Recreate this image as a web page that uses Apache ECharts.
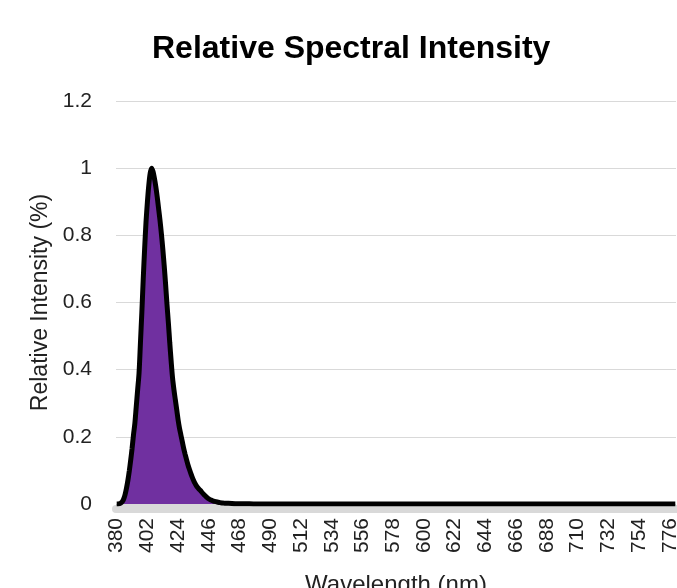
<!DOCTYPE html>
<html>
<head>
<meta charset="utf-8">
<script src="https://cdn.jsdelivr.net/npm/echarts@6/dist/echarts.min.js"></script>
<style>
html,body{margin:0;padding:0;background:#fff;}
#chart{width:677px;height:588px;}
</style>
</head>
<body>
<div id="chart"></div>
<script>
// Wavelengths (nm) and relative intensity values
var wavelengths = [380,381,382,383,384,385,386,387,388,389,
  390,391,392,393,394,395,396,397,398,399,
  400,401,402,403,404,405,406,407,408,409,
  410,411,412,413,414,415,416,417,418,419,
  420,421,422,423,424,425,426,427,428,429,
  430,431,432,433,434,435,436,437,438,439,
  440,441,442,443,444,445,446,447,448,449,
  450,452,454,456,458,460,465,470,480,490,
  500,550,600,650,700,750,780];
var intensity = [0,0,0.001,0.003,0.007,0.015,0.028,0.047,0.07,0.098,
  0.13,0.165,0.205,0.24,0.29,0.34,0.39,0.48,0.57,0.67,
  0.76,0.84,0.9,0.95,0.985,1.0,0.99,0.97,0.945,0.915,
  0.88,0.845,0.805,0.76,0.71,0.655,0.595,0.54,0.48,0.425,
  0.375,0.34,0.31,0.28,0.25,0.225,0.205,0.185,0.165,0.148,
  0.132,0.117,0.104,0.092,0.081,0.071,0.062,0.055,0.049,0.044,
  0.04,0.035,0.03,0.026,0.022,0.018,0.015,0.013,0.011,0.009,
  0.008,0.006,0.004,0.003,0.002,0.002,0.001,0.001,0,0,
  0,0,0,0,0,0,0];
var xTickLabels = [380,402,424,446,468,490,512,534,556,578,600,622,644,666,688,710,732,754,776];
var yTicks = [0,0.2,0.4,0.6,0.8,1,1.2];

var chartTitle = 'Relative Spectral Intensity';
var xName = 'Wavelength (nm)';
var yName = 'Relative Intensity (%)';

var seriesData = wavelengths.map(function(w,i){ return [w, intensity[i]]; });

var chart = echarts.init(document.getElementById('chart'), null, {renderer:'canvas'});
var font = 'Liberation Sans';
chart.setOption({
  backgroundColor:'#ffffff',
  animation:false,
  title:{
    text:chartTitle,
    left:147,
    top:28,
    textStyle:{fontFamily:font,fontWeight:'bold',fontSize:32,color:'#000'}
  },
  grid:{left:116,right:1,top:101,bottom:84,containLabel:false,outerBoundsMode:'none'},
  xAxis:[{
    type:'value',
    min:379.5,
    max:780.5,
    name:xName,
    nameLocation:'middle',
    nameGap:69,
    nameTextStyle:{fontFamily:font,fontSize:24,color:'#222'},
    axisLine:{show:false},
    axisTick:{show:false},
    splitLine:{show:false},
    axisLabel:{
      customValues:xTickLabels,
      rotate:90,
      margin:14,
      fontFamily:font,
      fontSize:21,
      color:'#222'
    }
  },{
    type:'value',
    min:379.5,
    max:780.5,
    position:'bottom',
    offset:5,
    axisLine:{show:true,onZero:false,lineStyle:{color:'#d9d9d9',width:8}},
    axisTick:{show:false},
    axisLabel:{show:false},
    splitLine:{show:false}
  }],
  yAxis:{
    type:'value',
    min:yTicks[0],
    max:yTicks[yTicks.length-1],
    interval:0.2,
    name:yName,
    nameLocation:'middle',
    nameGap:64,
    nameTextStyle:{fontFamily:font,fontSize:23,color:'#222'},
    axisLine:{show:false},
    axisTick:{show:false},
    axisLabel:{margin:24,fontFamily:font,fontSize:21,color:'#222'},
    splitLine:{lineStyle:{color:'#d9d9d9',width:1}}
  },
  series:[{
    type:'line',
    xAxisIndex:0,
    data:seriesData,
    smooth:0.3,
    showSymbol:false,
    lineStyle:{color:'#000',width:5},
    areaStyle:{color:'#7030A0',opacity:1},
    z:3
  }]
});
</script>
</body>
</html>
